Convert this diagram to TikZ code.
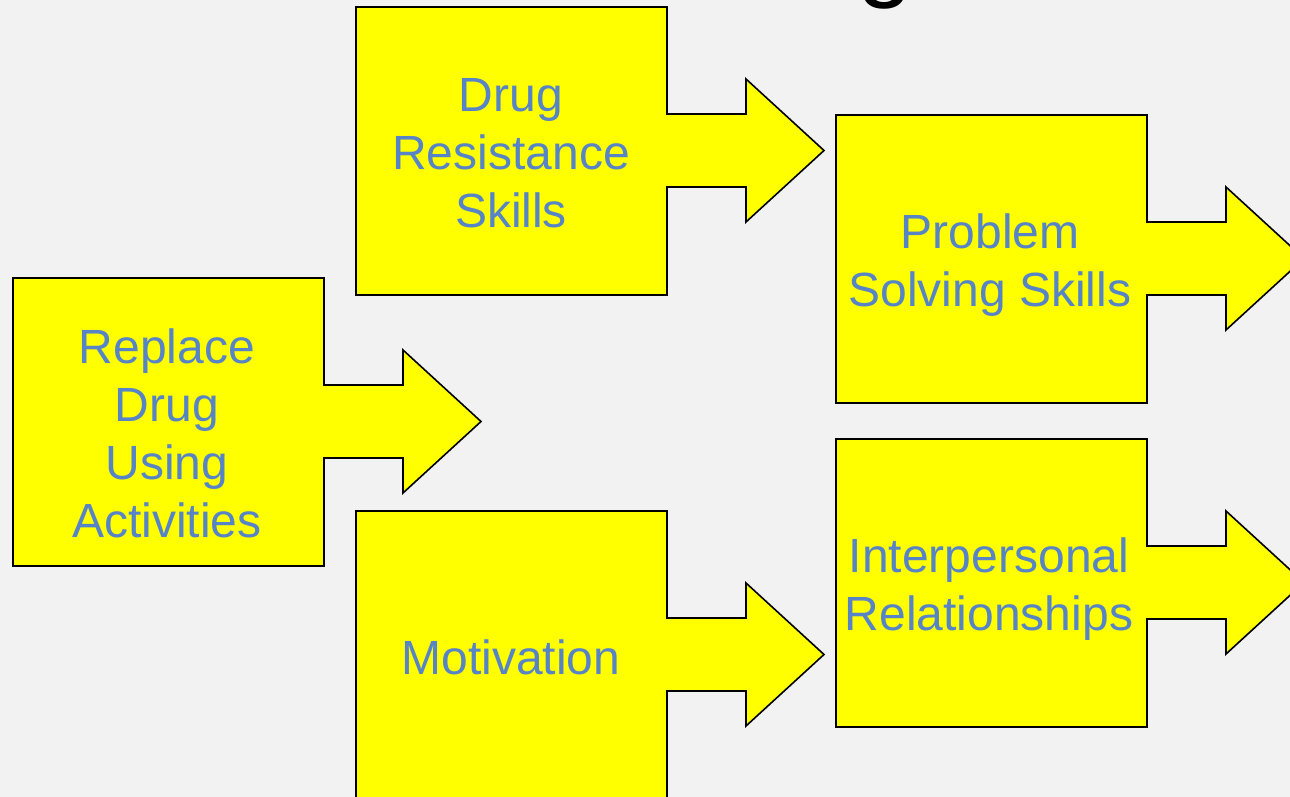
\documentclass[tikz,border=0pt]{standalone}
\usepackage{fontspec}
\setmainfont{Liberation Sans}
\definecolor{bg}{RGB}{242,242,242}
\definecolor{txt}{RGB}{86,132,198}
\definecolor{yel}{RGB}{255,255,0}
\begin{document}
\begin{tikzpicture}[x=1pt,y=-1pt,
  calloutbox/.style={fill=yel,draw=black,line width=1.6pt,line join=miter},
  lbl/.style={text=txt,font=\fontsize{48}{58}\selectfont,align=center,inner sep=0pt},
  callout/.pic={\path[calloutbox] (0,0) -- (311,0) -- (311,107) -- (390,107) -- (390,72) -- (468,143.5) -- (390,215) -- (390,180) -- (311,180) -- (311,288) -- (0,288) -- cycle;}]
\useasboundingbox (0,0) rectangle (1290,797);
\fill[bg] (0,0) rectangle (1290,797);
\clip (0,0) rectangle (1290,797);
\node[anchor=base,font=\fontsize{100}{100}\selectfont,inner sep=0pt] (title) at (885,-11) {g};
\pic (c1) at (13,278) {callout};
\pic (c2) at (356,7) {callout};
\pic (c3) at (356,511) {callout};
\pic (c4) at (836,115) {callout};
\pic (c5) at (836,439) {callout};
\node[lbl] (replace) at (167,433) {Replace\\Drug\\Using\\Activities};
\node[lbl] (resist) at (511,153) {Drug\\Resistance\\Skills};
\node[lbl] (motiv) at (511,657) {Motivation};
\node[lbl] (problem) at (990,265) {Problem\\Solving Skills};
\node[lbl] (inter) at (989,589) {Interpersonal\\Relationships};
\end{tikzpicture}
\end{document}
